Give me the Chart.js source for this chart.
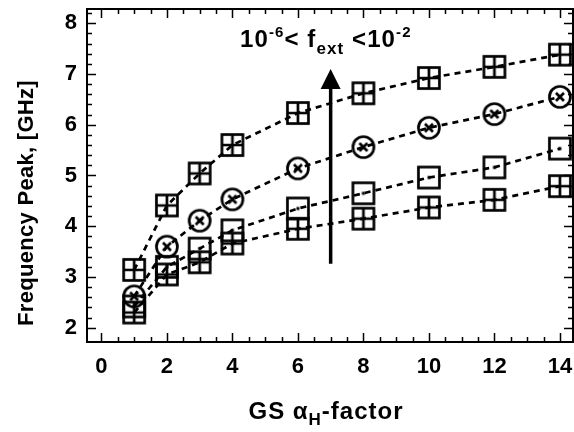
<!DOCTYPE html>
<html>
<head>
<meta charset="utf-8">
<script src="https://cdn.jsdelivr.net/npm/chart.js@4"></script>
<style>
  html, body { margin: 0; padding: 0; background: #fff; }
  #wrap { width: 574px; height: 432px; }
</style>
</head>
<body>
<div id="wrap"><canvas id="chart" width="574" height="432"></canvas></div>
<script>
// データ
const alphaH = [1, 2, 3, 4, 6, 8, 10, 12, 14];
const peakTop = [3.14, 4.41, 5.04, 5.60, 6.23, 6.62, 6.92, 7.14, 7.38];
const peakCircle = [2.62, 3.60, 4.11, 4.53, 5.14, 5.56, 5.94, 6.21, 6.55];
const peakDot = [2.42, 3.20, 3.56, 3.92, 4.35, 4.65, 4.96, 5.16, 5.53];
const peakBottom = [2.30, 3.05, 3.29, 3.66, 3.95, 4.15, 4.37, 4.52, 4.79];

const xTickLabels = [0, 2, 4, 6, 8, 10, 12, 14];
const yTickLabels = [2, 3, 4, 5, 6, 7, 8];

// 矢印 (データ座標)
const arrowX = 7;
const arrowFrom = 3.26;
const arrowTo = 7.1;

const FONT = '"Liberation Sans", Arial, sans-serif';

// マーカー作成
function makeMarker(kind) {
  const c = document.createElement("canvas");
  c.width = 26;
  c.height = 26;
  const g = c.getContext("2d");
  g.strokeStyle = "#000";
  g.fillStyle = "#000";
  g.lineWidth = 2.7;
  if (kind === "circle") {
    g.beginPath();
    g.arc(13, 13, 10.5, 0, Math.PI * 2);
    g.stroke();
    g.beginPath();
    g.moveTo(9, 9); g.lineTo(17, 17);
    g.moveTo(17, 9); g.lineTo(9, 17);
    g.stroke();
  } else {
    g.strokeRect(2.5, 2.5, 21, 21);
    if (kind === "plus") {
      g.beginPath();
      g.moveTo(13, 2.5); g.lineTo(13, 23.5);
      g.moveTo(2.5, 13); g.lineTo(23.5, 13);
      g.stroke();
    } else {
      g.fillRect(11.5, 11.5, 3, 3);
    }
  }
  return c;
}

const markerPlus = makeMarker("plus");
const markerCircle = makeMarker("circle");
const markerDot = makeMarker("dot");

function series(values, marker) {
  return {
    data: alphaH.map((x, i) => ({ x: x, y: values[i] })),
    borderColor: "#000",
    borderWidth: 2.7,
    borderDash: [6, 5],
    pointStyle: marker,
    pointRadius: 12,
    pointHoverRadius: 12,
    showLine: true,
    tension: 0,
    clip: false,
  };
}

// 添字付きテキスト
function drawRuns(ctx, runs, x, y, spacing, align) {
  ctx.textAlign = "left";
  ctx.textBaseline = "alphabetic";
  ctx.letterSpacing = spacing + "px";
  let w = 0;
  runs.forEach((r) => {
    ctx.font = "bold " + r[1] + "px " + FONT;
    w += ctx.measureText(r[0]).width;
  });
  let sx = align === "center" ? x - w / 2 : x;
  runs.forEach((r) => {
    ctx.font = "bold " + r[1] + "px " + FONT;
    ctx.fillText(r[0], sx, y + r[2]);
    sx += ctx.measureText(r[0]).width;
  });
  ctx.letterSpacing = "0px";
}

// 枠・内向き目盛・矢印・文字
const decorPlugin = {
  id: "decor",
  afterDraw(chart) {
    const ctx = chart.ctx;
    const a = chart.chartArea;
    const xs = chart.scales.x;
    const ys = chart.scales.y;
    ctx.save();
    ctx.strokeStyle = "#000";
    ctx.fillStyle = "#000";
    ctx.lineWidth = 1.5;

    // x 目盛
    for (let v = 0; v <= 14.001; v += 0.5) {
      const px = Math.round(xs.getPixelForValue(v)) + 0.5;
      const len = Math.abs(v % 2) < 0.01 ? 9 : 5;
      ctx.beginPath();
      ctx.moveTo(px, a.bottom); ctx.lineTo(px, a.bottom - len);
      ctx.moveTo(px, a.top); ctx.lineTo(px, a.top + len);
      ctx.stroke();
    }
    // y 目盛
    for (let i = 0; i <= 31; i++) {
      const v = 2 + i * 0.2;
      if (v > ys.max) break;
      const py = Math.round(ys.getPixelForValue(v)) + 0.5;
      const len = i % 5 === 0 ? 9 : 5;
      ctx.beginPath();
      ctx.moveTo(a.left, py); ctx.lineTo(a.left + len, py);
      ctx.moveTo(a.right, py); ctx.lineTo(a.right - len, py);
      ctx.stroke();
    }
    // 枠
    ctx.lineWidth = 2;
    ctx.strokeRect(a.left, a.top, a.right - a.left, a.bottom - a.top);

    // 矢印
    const ax = xs.getPixelForValue(arrowX);
    const ay0 = ys.getPixelForValue(arrowFrom);
    const ay1 = ys.getPixelForValue(arrowTo);
    ctx.lineWidth = 3.5;
    ctx.beginPath();
    ctx.moveTo(ax, ay0);
    ctx.lineTo(ax, ay1 + 18);
    ctx.stroke();
    ctx.beginPath();
    ctx.moveTo(ax, ay1);
    ctx.lineTo(ax - 10, ay1 + 20);
    ctx.lineTo(ax + 10, ay1 + 20);
    ctx.closePath();
    ctx.fill();

    // 注記 10^-6 < f_ext < 10^-2
    drawRuns(ctx, [
      ["10", 24, 0],
      ["-6", 15, -10],
      ["< f", 24, 0],
      ["ext", 17, 7],
      [" <10", 24, 0],
      ["-2", 15, -10],
    ], 240, 47, 1.1, "left");

    // y 軸タイトル
    ctx.save();
    ctx.translate(33, 203);
    ctx.rotate(-Math.PI / 2);
    drawRuns(ctx, [["Frequency Peak, [GHz]", 22, 0]], 0, 0, 0.3, "center");
    ctx.restore();

    // x 軸タイトル GS α_H-factor
    drawRuns(ctx, [
      ["GS \u03b1", 24, 0],
      ["H", 17, 6],
      ["-factor", 24, 0],
    ], 326, 419, 1.0, "center");
    ctx.restore();
  },
};

const ctx = document.getElementById("chart").getContext("2d");
new Chart(ctx, {
  type: "scatter",
  data: {
    datasets: [
      series(peakBottom, markerPlus),
      series(peakDot, markerDot),
      series(peakCircle, markerCircle),
      series(peakTop, markerPlus),
    ],
  },
  options: {
    responsive: false,
    animation: false,
    devicePixelRatio: 1,
    layout: { autoPadding: false, padding: { left: 0, right: 1, top: 9, bottom: 0 } },
    plugins: {
      legend: { display: false },
      tooltip: { enabled: false },
    },
    scales: {
      x: {
        type: "linear",
        min: -0.44,
        max: 14.4,
        grid: { display: false, drawTicks: false },
        border: { display: false },
        afterBuildTicks: (s) => {
          s.ticks = xTickLabels.map((v) => ({ value: v }));
        },
        afterFit: (s) => {
          s.height = 90;
          s.paddingLeft = 0;
          s.paddingRight = 0;
        },
        ticks: {
          padding: 12,
          color: "#000",
          maxRotation: 0,
          font: { family: FONT, size: 22, weight: "bold" },
        },
      },
      y: {
        type: "linear",
        min: 1.72,
        max: 8.28,
        grid: { display: false, drawTicks: false },
        border: { display: false },
        afterBuildTicks: (s) => {
          s.ticks = yTickLabels.map((v) => ({ value: v }));
        },
        afterFit: (s) => {
          s.width = 87;
          s.paddingTop = 0;
          s.paddingBottom = 0;
        },
        ticks: {
          padding: 10,
          color: "#000",
          font: { family: FONT, size: 22, weight: "bold" },
        },
      },
    },
  },
  plugins: [decorPlugin],
});
</script>
</body>
</html>
